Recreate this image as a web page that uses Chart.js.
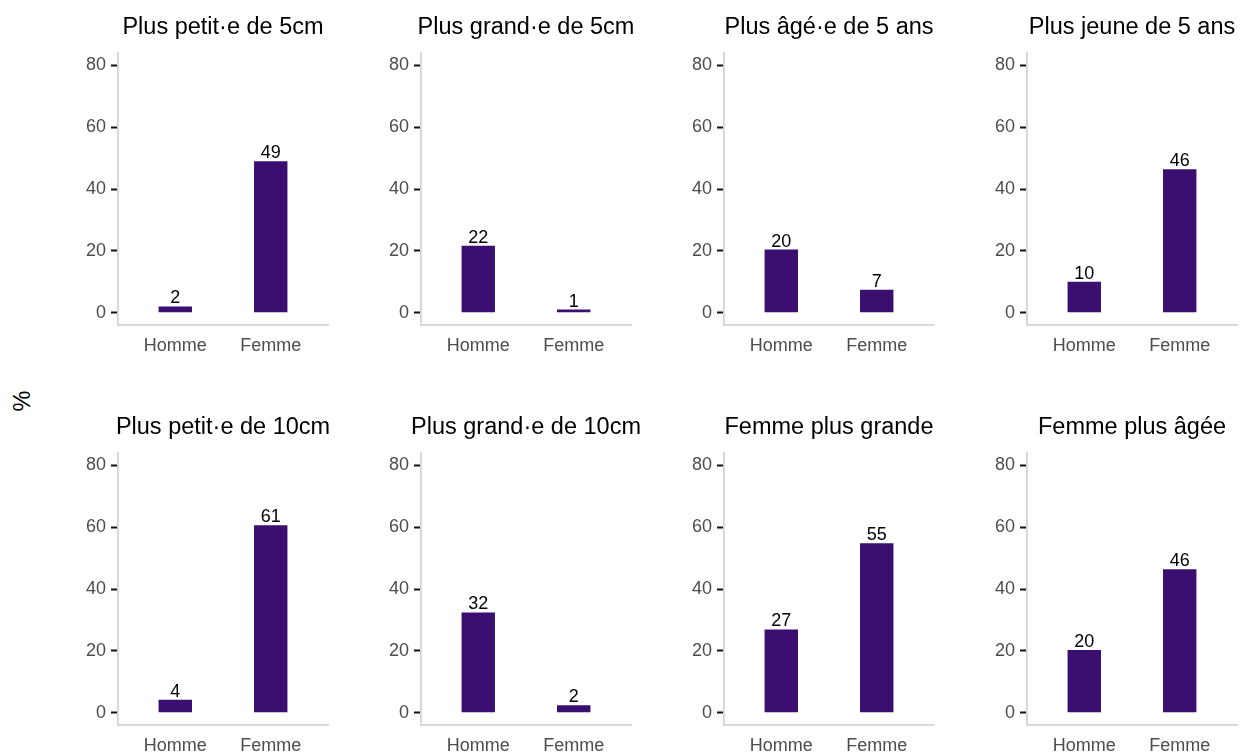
<!DOCTYPE html>
<html>
<head>
<meta charset="utf-8">
<script src="https://cdn.jsdelivr.net/npm/chart.js@4/dist/chart.umd.min.js"></script>
<style>
  body { margin: 0; background: #fff; overflow: hidden; }
  #page { position: relative; width: 1241px; height: 753px; overflow: hidden; }
  #page canvas { position: absolute; }
  #ylab {
    position: absolute; left: 22px; top: 401px;
    transform: translate(-50%, -50%) rotate(-90deg);
    font: 23.5px "Liberation Sans", Arial, sans-serif; color: #000;
  }
</style>
</head>
<body>
<div id="page"><div id="ylab">%</div></div>
<script>
// ---- data ----
const panelTitles = [
  'Plus petit·e de 5cm', 'Plus grand·e de 5cm', 'Plus âgé·e de 5 ans', 'Plus jeune de 5 ans',
  'Plus petit·e de 10cm', 'Plus grand·e de 10cm', 'Femme plus grande', 'Femme plus âgée'
];
const categories = ['Homme', 'Femme'];
const hommeValues = [2.0, 21.6, 20.4, 10.0, 4.2, 32.4, 26.9, 20.3];
const femmeValues = [49.0, 1.0, 7.4, 46.4, 60.6, 2.4, 54.8, 46.4];
const yTicks = [0, 20, 40, 60, 80];

// ---- look ----
const FONT = '"Liberation Sans", Arial, sans-serif';
const barColor = '#3b0f70';
const axisGrey = '#d4d4d4';
const tickGrey = '#4d4d4d';

// panel geometry (canvas-relative)
const CW = 345, AX_LEFT = 118, AX_RIGHT = 328, AX_TOP = 53, AX_BOTTOM = 325;

// title over each panel
const panelTitle = {
  id: 'panelTitle',
  afterDraw(chart, args, opts) {
    const ctx = chart.ctx, ca = chart.chartArea;
    ctx.save();
    ctx.font = '23.5px ' + FONT;
    ctx.fillStyle = '#000';
    ctx.textAlign = 'center';
    ctx.textBaseline = 'alphabetic';
    ctx.fillText(opts.text, (ca.left + ca.right) / 2, 33.5);
    ctx.restore();
  }
};

// rounded values above the bars
const valueLabels = {
  id: 'valueLabels',
  afterDatasetsDraw(chart) {
    const ctx = chart.ctx;
    const ds = chart.data.datasets[0];
    ctx.save();
    ctx.font = '18px ' + FONT;
    ctx.fillStyle = '#000';
    ctx.textAlign = 'center';
    ctx.textBaseline = 'alphabetic';
    chart.getDatasetMeta(0).data.forEach((bar, j) => {
      ctx.fillText(Math.round(ds.data[j].y), bar.x, bar.y - 3);
    });
    ctx.restore();
  }
};

const page = document.getElementById('page');

panelTitles.forEach((title, i) => {
  const col = i % 4, row = Math.floor(i / 4);
  const ch = row === 0 ? 400 : 353;
  const cv = document.createElement('canvas');
  cv.width = CW; cv.height = ch;
  cv.style.left = (col * 303) + 'px';
  cv.style.top = (row * 400) + 'px';
  page.appendChild(cv);

  const vals = [hommeValues[i], femmeValues[i]];

  new Chart(cv, {
    type: 'bar',
    data: {
      datasets: [{
        data: categories.map((c, j) => ({ x: j, y: vals[j] })),
        backgroundColor: barColor,
        borderWidth: 0,
        barPercentage: 0.35,
        categoryPercentage: 1
      }]
    },
    options: {
      responsive: false,
      animation: false,
      events: [],
      layout: { padding: { top: AX_TOP, left: 0, right: CW - AX_RIGHT, bottom: 0 } },
      plugins: {
        legend: { display: false },
        tooltip: { enabled: false },
        panelTitle: { text: title }
      },
      scales: {
        x: {
          type: 'linear',
          min: -0.6, max: 1.6,
          bounds: 'data',
          offset: false,
          afterBuildTicks: s => { s.ticks = categories.map((c, j) => ({ value: j })); },
          afterFit: s => { s.height = ch - AX_BOTTOM; },
          grid: { display: false, drawTicks: false, offset: false },
          border: { display: true, color: axisGrey, width: 1.8 },
          ticks: {
            callback: v => categories[v],
            font: { family: FONT, size: 18 },
            color: tickGrey,
            padding: 10,
            maxRotation: 0,
            autoSkip: false
          }
        },
        y: {
          min: -4, max: 84,
          bounds: 'data',
          afterBuildTicks: s => { s.ticks = yTicks.map(v => ({ value: v })); },
          afterFit: s => { s.width = AX_LEFT; },
          grid: { drawOnChartArea: false, drawTicks: true, tickLength: 7, tickColor: '#111', tickWidth: 2 },
          border: { display: true, color: axisGrey, width: 1.8 },
          ticks: {
            font: { family: FONT, size: 18 },
            color: tickGrey,
            padding: 5
          }
        }
      }
    },
    plugins: [panelTitle, valueLabels]
  });
});
</script>
</body>
</html>
